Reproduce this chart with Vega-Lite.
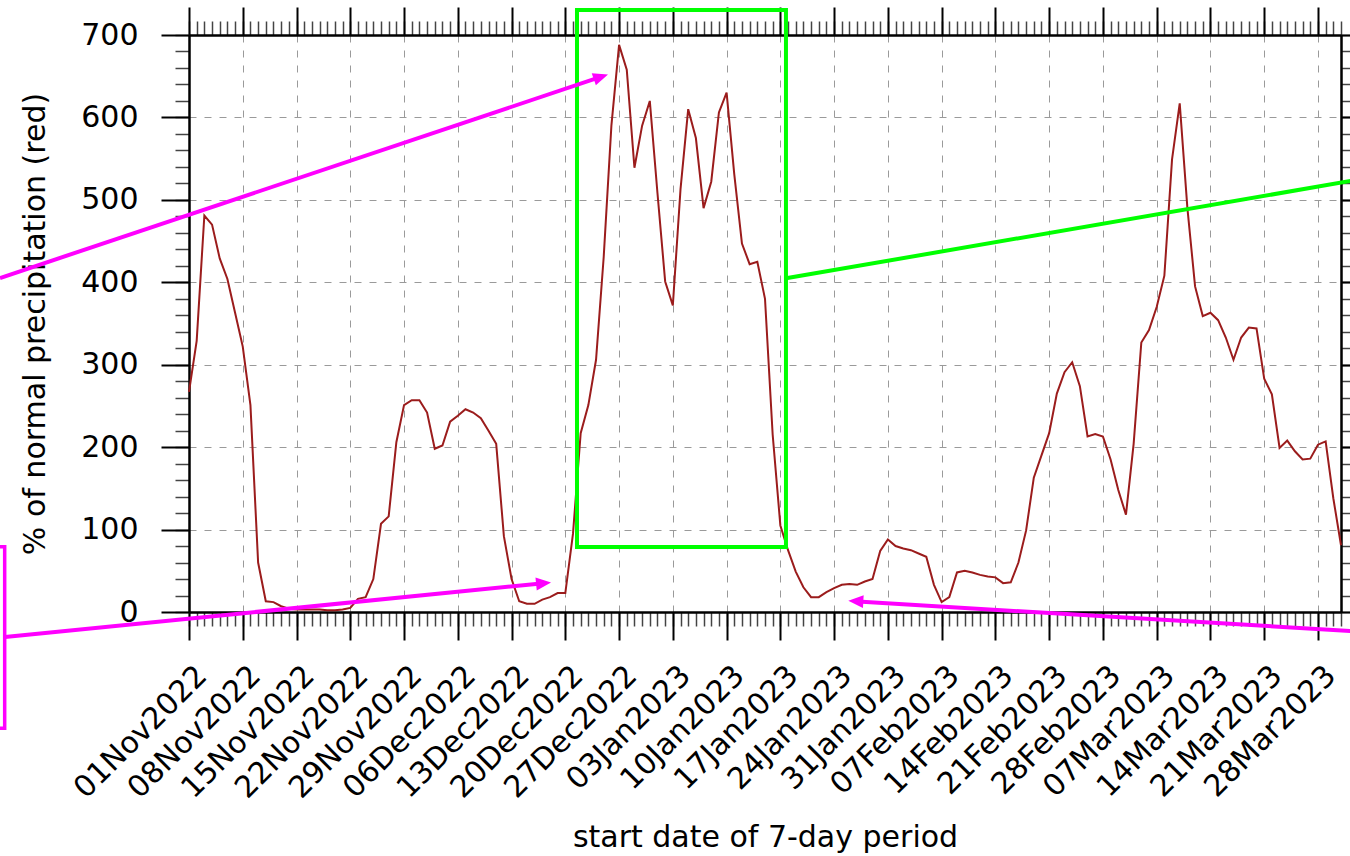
{
  "$schema": "https://vega.github.io/schema/vega-lite/v6.json",
  "width": 1152,
  "height": 577,
  "autosize": {"type": "none"},
  "padding": {"left": 189, "top": 35, "right": 9, "bottom": 244},
  "background": "white",
  "config": {
    "view": {"stroke": null},
    "axis": {
      "labelFont": "DejaVu Sans",
      "titleFont": "DejaVu Sans",
      "labelColor": "black",
      "titleColor": "black",
      "domainColor": "black",
      "domainWidth": 2,
      "tickColor": "black",
      "titleFontWeight": "normal"
    }
  },
  "datasets": {
    "precip": [
      {"date": "2022-11-01", "pct": 267}, {"date": "2022-11-02", "pct": 329}, {"date": "2022-11-03", "pct": 481}, {"date": "2022-11-04", "pct": 470}, {"date": "2022-11-05", "pct": 429},
      {"date": "2022-11-06", "pct": 404}, {"date": "2022-11-07", "pct": 363}, {"date": "2022-11-08", "pct": 322}, {"date": "2022-11-09", "pct": 251}, {"date": "2022-11-10", "pct": 60},
      {"date": "2022-11-11", "pct": 13}, {"date": "2022-11-12", "pct": 12}, {"date": "2022-11-13", "pct": 7}, {"date": "2022-11-14", "pct": 4}, {"date": "2022-11-15", "pct": 3},
      {"date": "2022-11-16", "pct": 3}, {"date": "2022-11-17", "pct": 3}, {"date": "2022-11-18", "pct": 3}, {"date": "2022-11-19", "pct": 2}, {"date": "2022-11-20", "pct": 2},
      {"date": "2022-11-21", "pct": 3}, {"date": "2022-11-22", "pct": 5}, {"date": "2022-11-23", "pct": 16}, {"date": "2022-11-24", "pct": 18}, {"date": "2022-11-25", "pct": 40},
      {"date": "2022-11-26", "pct": 107}, {"date": "2022-11-27", "pct": 116}, {"date": "2022-11-28", "pct": 206}, {"date": "2022-11-29", "pct": 251}, {"date": "2022-11-30", "pct": 257},
      {"date": "2022-12-01", "pct": 257}, {"date": "2022-12-02", "pct": 242}, {"date": "2022-12-03", "pct": 198}, {"date": "2022-12-04", "pct": 202}, {"date": "2022-12-05", "pct": 231},
      {"date": "2022-12-06", "pct": 238}, {"date": "2022-12-07", "pct": 246}, {"date": "2022-12-08", "pct": 242}, {"date": "2022-12-09", "pct": 235}, {"date": "2022-12-10", "pct": 220},
      {"date": "2022-12-11", "pct": 204}, {"date": "2022-12-12", "pct": 92}, {"date": "2022-12-13", "pct": 40}, {"date": "2022-12-14", "pct": 13}, {"date": "2022-12-15", "pct": 10},
      {"date": "2022-12-16", "pct": 10}, {"date": "2022-12-17", "pct": 15}, {"date": "2022-12-18", "pct": 18}, {"date": "2022-12-19", "pct": 23}, {"date": "2022-12-20", "pct": 23},
      {"date": "2022-12-21", "pct": 95}, {"date": "2022-12-22", "pct": 217}, {"date": "2022-12-23", "pct": 251}, {"date": "2022-12-24", "pct": 306}, {"date": "2022-12-25", "pct": 431},
      {"date": "2022-12-26", "pct": 590}, {"date": "2022-12-27", "pct": 688}, {"date": "2022-12-28", "pct": 658}, {"date": "2022-12-29", "pct": 539}, {"date": "2022-12-30", "pct": 590},
      {"date": "2022-12-31", "pct": 620},
      {"date": "2023-01-01", "pct": 508}, {"date": "2023-01-02", "pct": 401}, {"date": "2023-01-03", "pct": 372}, {"date": "2023-01-04", "pct": 513}, {"date": "2023-01-05", "pct": 610},
      {"date": "2023-01-06", "pct": 575}, {"date": "2023-01-07", "pct": 490}, {"date": "2023-01-08", "pct": 522}, {"date": "2023-01-09", "pct": 606}, {"date": "2023-01-10", "pct": 630},
      {"date": "2023-01-11", "pct": 531}, {"date": "2023-01-12", "pct": 447}, {"date": "2023-01-13", "pct": 422}, {"date": "2023-01-14", "pct": 425}, {"date": "2023-01-15", "pct": 380},
      {"date": "2023-01-16", "pct": 215}, {"date": "2023-01-17", "pct": 105}, {"date": "2023-01-18", "pct": 75}, {"date": "2023-01-19", "pct": 49}, {"date": "2023-01-20", "pct": 30},
      {"date": "2023-01-21", "pct": 18}, {"date": "2023-01-22", "pct": 18}, {"date": "2023-01-23", "pct": 24}, {"date": "2023-01-24", "pct": 29}, {"date": "2023-01-25", "pct": 33},
      {"date": "2023-01-26", "pct": 34}, {"date": "2023-01-27", "pct": 33}, {"date": "2023-01-28", "pct": 37}, {"date": "2023-01-29", "pct": 40}, {"date": "2023-01-30", "pct": 74},
      {"date": "2023-01-31", "pct": 88},
      {"date": "2023-02-01", "pct": 80}, {"date": "2023-02-02", "pct": 77}, {"date": "2023-02-03", "pct": 75}, {"date": "2023-02-04", "pct": 71}, {"date": "2023-02-05", "pct": 67},
      {"date": "2023-02-06", "pct": 33}, {"date": "2023-02-07", "pct": 12}, {"date": "2023-02-08", "pct": 18}, {"date": "2023-02-09", "pct": 48}, {"date": "2023-02-10", "pct": 50},
      {"date": "2023-02-11", "pct": 48}, {"date": "2023-02-12", "pct": 45}, {"date": "2023-02-13", "pct": 43}, {"date": "2023-02-14", "pct": 42}, {"date": "2023-02-15", "pct": 35},
      {"date": "2023-02-16", "pct": 36}, {"date": "2023-02-17", "pct": 60}, {"date": "2023-02-18", "pct": 99}, {"date": "2023-02-19", "pct": 163}, {"date": "2023-02-20", "pct": 190},
      {"date": "2023-02-21", "pct": 217}, {"date": "2023-02-22", "pct": 265}, {"date": "2023-02-23", "pct": 291}, {"date": "2023-02-24", "pct": 303}, {"date": "2023-02-25", "pct": 274},
      {"date": "2023-02-26", "pct": 213}, {"date": "2023-02-27", "pct": 216}, {"date": "2023-02-28", "pct": 213},
      {"date": "2023-03-01", "pct": 185}, {"date": "2023-03-02", "pct": 148}, {"date": "2023-03-03", "pct": 118}, {"date": "2023-03-04", "pct": 204}, {"date": "2023-03-05", "pct": 327},
      {"date": "2023-03-06", "pct": 342}, {"date": "2023-03-07", "pct": 370}, {"date": "2023-03-08", "pct": 408}, {"date": "2023-03-09", "pct": 549}, {"date": "2023-03-10", "pct": 617},
      {"date": "2023-03-11", "pct": 490}, {"date": "2023-03-12", "pct": 395}, {"date": "2023-03-13", "pct": 359}, {"date": "2023-03-14", "pct": 363}, {"date": "2023-03-15", "pct": 354},
      {"date": "2023-03-16", "pct": 333}, {"date": "2023-03-17", "pct": 306}, {"date": "2023-03-18", "pct": 333}, {"date": "2023-03-19", "pct": 345}, {"date": "2023-03-20", "pct": 344},
      {"date": "2023-03-21", "pct": 283}, {"date": "2023-03-22", "pct": 264}, {"date": "2023-03-23", "pct": 199}, {"date": "2023-03-24", "pct": 208}, {"date": "2023-03-25", "pct": 195},
      {"date": "2023-03-26", "pct": 185}, {"date": "2023-03-27", "pct": 186}, {"date": "2023-03-28", "pct": 203}, {"date": "2023-03-29", "pct": 207}, {"date": "2023-03-30", "pct": 138},
      {"date": "2023-03-31", "pct": 81}
    ]
  },
  "resolve": {"axis": {"x": "independent", "y": "independent"}},
  "layer": [
    {
      "data": {"name": "precip"},
      "mark": {"type": "line", "strokeOpacity": 0},
      "encoding": {
        "x": {
          "field": "date", "type": "temporal",
          "scale": {"type": "utc", "nice": false, "domain": [{"year": 2022, "month": 11, "date": 1, "utc": true}, {"year": 2023, "month": 3, "date": 31, "utc": true}]},
          "axis": {"orient": "bottom", "labels": false, "title": null, "grid": false, "tickCount": {"interval": "day", "step": 1}, "tickSize": 14, "tickWidth": 1.5, "tickColor": "#444444"}
        },
        "y": {
          "field": "pct", "type": "quantitative",
          "scale": {"domain": [0, 700], "nice": false, "zero": false},
          "axis": {"orient": "left", "labels": false, "title": null, "grid": false, "values": [0,20,40,60,80,100,120,140,160,180,200,220,240,260,280,300,320,340,360,380,400,420,440,460,480,500,520,540,560,580,600,620,640,660,680,700], "tickSize": 14, "tickWidth": 1.5, "tickColor": "#444444"}
        }
      }
    },
    {
      "data": {"name": "precip"},
      "mark": {"type": "line", "strokeOpacity": 0},
      "encoding": {
        "x": {
          "field": "date", "type": "temporal",
          "axis": {"orient": "top", "labels": false, "title": null, "grid": false, "tickCount": {"interval": "day", "step": 1}, "tickSize": 14, "tickWidth": 1.5, "tickColor": "#444444"}
        },
        "y": {
          "field": "pct", "type": "quantitative",
          "axis": {"orient": "right", "labels": false, "title": null, "grid": false, "values": [0,20,40,60,80,100,120,140,160,180,200,220,240,260,280,300,320,340,360,380,400,420,440,460,480,500,520,540,560,580,600,620,640,660,680,700], "tickSize": 14, "tickWidth": 1.5, "tickColor": "#444444"}
        }
      }
    },
    {
      "data": {"name": "precip"},
      "mark": {"type": "line", "strokeOpacity": 0},
      "encoding": {
        "x": {
          "field": "date", "type": "temporal",
          "axis": {"orient": "top", "labels": false, "title": null, "grid": false, "tickSize": 28, "tickWidth": 2,
            "values": [
              {"year": 2022, "month": 11, "date": 1, "utc": true}, {"year": 2022, "month": 11, "date": 8, "utc": true}, {"year": 2022, "month": 11, "date": 15, "utc": true}, {"year": 2022, "month": 11, "date": 22, "utc": true}, {"year": 2022, "month": 11, "date": 29, "utc": true},
              {"year": 2022, "month": 12, "date": 6, "utc": true}, {"year": 2022, "month": 12, "date": 13, "utc": true}, {"year": 2022, "month": 12, "date": 20, "utc": true}, {"year": 2022, "month": 12, "date": 27, "utc": true},
              {"year": 2023, "month": 1, "date": 3, "utc": true}, {"year": 2023, "month": 1, "date": 10, "utc": true}, {"year": 2023, "month": 1, "date": 17, "utc": true}, {"year": 2023, "month": 1, "date": 24, "utc": true}, {"year": 2023, "month": 1, "date": 31, "utc": true},
              {"year": 2023, "month": 2, "date": 7, "utc": true}, {"year": 2023, "month": 2, "date": 14, "utc": true}, {"year": 2023, "month": 2, "date": 21, "utc": true}, {"year": 2023, "month": 2, "date": 28, "utc": true},
              {"year": 2023, "month": 3, "date": 7, "utc": true}, {"year": 2023, "month": 3, "date": 14, "utc": true}, {"year": 2023, "month": 3, "date": 21, "utc": true}, {"year": 2023, "month": 3, "date": 28, "utc": true}
            ]}
        },
        "y": {
          "field": "pct", "type": "quantitative",
          "axis": {"orient": "right", "labels": false, "title": null, "grid": false, "values": [0, 100, 200, 300, 400, 500, 600, 700], "tickSize": 28, "tickWidth": 2}
        }
      }
    },
    {
      "data": {"name": "precip"},
      "mark": {"type": "line", "color": "#9b1c1c", "strokeWidth": 2},
      "encoding": {
        "x": {
          "field": "date", "type": "temporal",
          "axis": {
            "orient": "bottom", "title": "start date of 7-day period", "titleFontSize": 30, "titlePadding": 19,
            "format": "%d%b%Y", "labelAngle": -45, "labelAlign": "right", "labelBaseline": "top", "labelFontSize": 30,
            "labelPadding": 20, "labelOffset": 2, "labelOverlap": false, "labelFlush": false, "labelBound": false,
            "tickSize": 28, "tickWidth": 2,
            "grid": true, "gridColor": "#9a9a9a", "gridDash": [7, 8], "gridWidth": 1,
            "values": [
              {"year": 2022, "month": 11, "date": 1, "utc": true}, {"year": 2022, "month": 11, "date": 8, "utc": true}, {"year": 2022, "month": 11, "date": 15, "utc": true}, {"year": 2022, "month": 11, "date": 22, "utc": true}, {"year": 2022, "month": 11, "date": 29, "utc": true},
              {"year": 2022, "month": 12, "date": 6, "utc": true}, {"year": 2022, "month": 12, "date": 13, "utc": true}, {"year": 2022, "month": 12, "date": 20, "utc": true}, {"year": 2022, "month": 12, "date": 27, "utc": true},
              {"year": 2023, "month": 1, "date": 3, "utc": true}, {"year": 2023, "month": 1, "date": 10, "utc": true}, {"year": 2023, "month": 1, "date": 17, "utc": true}, {"year": 2023, "month": 1, "date": 24, "utc": true}, {"year": 2023, "month": 1, "date": 31, "utc": true},
              {"year": 2023, "month": 2, "date": 7, "utc": true}, {"year": 2023, "month": 2, "date": 14, "utc": true}, {"year": 2023, "month": 2, "date": 21, "utc": true}, {"year": 2023, "month": 2, "date": 28, "utc": true},
              {"year": 2023, "month": 3, "date": 7, "utc": true}, {"year": 2023, "month": 3, "date": 14, "utc": true}, {"year": 2023, "month": 3, "date": 21, "utc": true}, {"year": 2023, "month": 3, "date": 28, "utc": true}
            ]
          }
        },
        "y": {
          "field": "pct", "type": "quantitative",
          "axis": {
            "orient": "left", "title": "% of normal precipitation (red)", "titleFontSize": 30, "titlePadding": 30,
            "labelFontSize": 30, "labelPadding": 23, "values": [0, 100, 200, 300, 400, 500, 600, 700],
            "tickSize": 28, "tickWidth": 2,
            "grid": true, "gridColor": "#9a9a9a", "gridDash": [7, 8], "gridWidth": 1
          }
        }
      }
    },
    {
      "data": {
        "values": [
          {"x1": "2022-09-10T00:00:00Z", "x2": "2022-10-08T00:00:00Z", "y1": 79.2, "y2": -141.1}
        ],
        "format": {"parse": {"x1": "date", "x2": "date"}}
      },
      "mark": {"type": "rect", "fillOpacity": 0, "stroke": "#ff00ff", "strokeWidth": 3.5, "clip": false},
      "encoding": {
        "x": {"field": "x1", "type": "temporal", "axis": null},
        "x2": {"field": "x2"},
        "y": {"field": "y1", "type": "quantitative", "axis": null},
        "y2": {"field": "y2"}
      }
    },
    {
      "data": {
        "values": [
          {"x1": "2022-12-21T12:29:00Z", "x2": "2023-01-17T17:31:00Z", "y1": 730.3, "y2": 78.9}
        ],
        "format": {"parse": {"x1": "date", "x2": "date"}}
      },
      "mark": {"type": "rect", "fillOpacity": 0, "stroke": "#00ff00", "strokeWidth": 4, "clip": false},
      "encoding": {
        "x": {"field": "x1", "type": "temporal", "axis": null},
        "x2": {"field": "x2"},
        "y": {"field": "y1", "type": "quantitative", "axis": null},
        "y2": {"field": "y2"}
      }
    },
    {
      "data": {
        "values": [
          {"x1": "2023-01-17T17:31:00Z", "y1": 404.8, "x2": "2023-04-02T11:17:00Z", "y2": 524.9}
        ],
        "format": {"parse": {"x1": "date", "x2": "date"}}
      },
      "mark": {"type": "rule", "color": "#00ff00", "strokeWidth": 4, "clip": false},
      "encoding": {
        "x": {"field": "x1", "type": "temporal", "axis": null},
        "x2": {"field": "x2"},
        "y": {"field": "y1", "type": "quantitative", "axis": null},
        "y2": {"field": "y2"}
      }
    },
    {
      "data": {
        "values": [
          {"x1": "2022-10-07T09:22:00Z", "y1": 405.2, "x2": "2022-12-24T07:41:00Z", "y2": 648.2},
          {"x1": "2022-10-08T00:58:00Z", "y1": -30.3, "x2": "2022-12-16T19:55:00Z", "y2": 34.6},
          {"x1": "2023-04-02T11:17:00Z", "y1": -23.8, "x2": "2023-01-27T02:38:00Z", "y2": 12.6}
        ],
        "format": {"parse": {"x1": "date", "x2": "date"}}
      },
      "mark": {"type": "rule", "color": "#ff00ff", "strokeWidth": 4, "clip": false},
      "encoding": {
        "x": {"field": "x1", "type": "temporal", "axis": null},
        "x2": {"field": "x2"},
        "y": {"field": "y1", "type": "quantitative", "axis": null},
        "y2": {"field": "y2"}
      }
    },
    {
      "data": {"values": [{"date": "2022-12-25T13:26:00Z", "value": 652.1}], "format": {"parse": {"date": "date"}}},
      "mark": {"type": "point", "shape": "M0,0L-1,-0.43L-1,0.43Z", "size": 900, "angle": 341.5, "filled": true, "color": "#ff00ff", "opacity": 1, "strokeWidth": 0, "clip": false},
      "encoding": {
        "x": {"field": "date", "type": "temporal", "axis": null},
        "y": {"field": "value", "type": "quantitative", "axis": null}
      }
    },
    {
      "data": {"values": [{"date": "2022-12-18T03:22:00Z", "value": 35.8}], "format": {"parse": {"date": "date"}}},
      "mark": {"type": "point", "shape": "M0,0L-1,-0.43L-1,0.43Z", "size": 900, "angle": 354.3, "filled": true, "color": "#ff00ff", "opacity": 1, "strokeWidth": 0, "clip": false},
      "encoding": {
        "x": {"field": "date", "type": "temporal", "axis": null},
        "y": {"field": "value", "type": "quantitative", "axis": null}
      }
    },
    {
      "data": {"values": [{"date": "2023-01-25T20:24:00Z", "value": 13.7}], "format": {"parse": {"date": "date"}}},
      "mark": {"type": "point", "shape": "M0,0L-1,-0.43L-1,0.43Z", "size": 900, "angle": 183.4, "filled": true, "color": "#ff00ff", "opacity": 1, "strokeWidth": 0, "clip": false},
      "encoding": {
        "x": {"field": "date", "type": "temporal", "axis": null},
        "y": {"field": "value", "type": "quantitative", "axis": null}
      }
    }
  ]
}
